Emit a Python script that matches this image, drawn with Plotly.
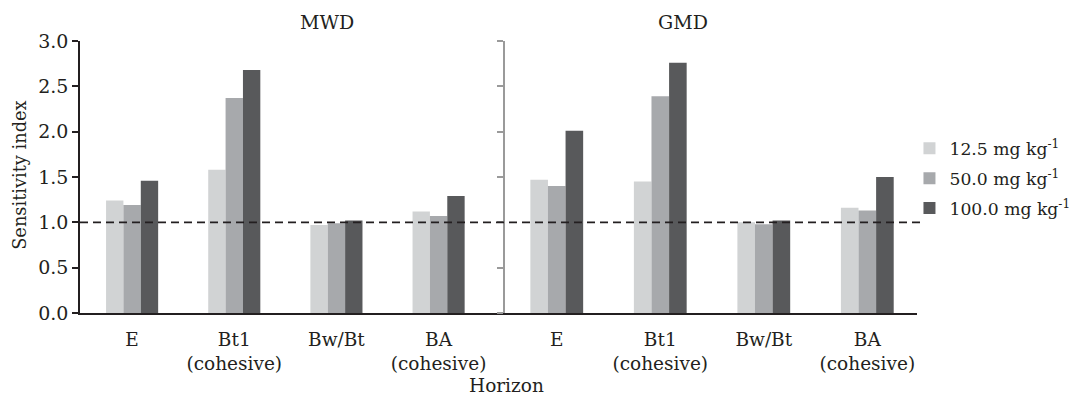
import plotly.graph_objects as go

categories = ["E", "Bt1<br>(cohesive)", "Bw/Bt", "BA<br>(cohesive)"]
series_names = ["12.5 mg kg<sup>-1</sup>", "50.0 mg kg<sup>-1</sup>", "100.0 mg kg<sup>-1</sup>"]
colors = ["#d1d3d4", "#a7a9ac", "#58595b"]

mwd_12_5 = [1.24, 1.58, 0.97, 1.12]
mwd_50 = [1.19, 2.37, 0.99, 1.07]
mwd_100 = [1.46, 2.68, 1.02, 1.29]

gmd_12_5 = [1.47, 1.45, 1.00, 1.16]
gmd_50 = [1.40, 2.39, 0.98, 1.13]
gmd_100 = [2.01, 2.76, 1.02, 1.50]

panel_titles = ["MWD", "GMD"]
reference_value = 1.0
y_ticks = [0.0, 0.5, 1.0, 1.5, 2.0, 2.5, 3.0]

FONT = "DejaVu Serif"
TXT = "#231f20"

fig = go.Figure()
mwd = [mwd_12_5, mwd_50, mwd_100]
gmd = [gmd_12_5, gmd_50, gmd_100]
for i in range(3):
    fig.add_trace(go.Bar(x=categories, y=mwd[i], name=series_names[i],
                         marker=dict(color=colors[i], line=dict(width=0)),
                         xaxis="x", yaxis="y", legendgroup=f"g{i}",
                         showlegend=True))
for i in range(3):
    fig.add_trace(go.Bar(x=categories, y=gmd[i], name=series_names[i],
                         marker=dict(color=colors[i], line=dict(width=0)),
                         xaxis="x2", yaxis="y2", legendgroup=f"g{i}",
                         showlegend=False))

split = 425 / 837

fig.update_layout(
    width=1070, height=389,
    margin=dict(l=72, r=161, t=33, b=83.5, pad=0, autoexpand=False),
    paper_bgcolor="white", plot_bgcolor="white",
    font=dict(family=FONT, size=18.5, color=TXT),
    barmode="group", bargap=0.49, bargroupgap=0,
    showlegend=True,
    legend=dict(x=0.991, y=0.494, xanchor="left", yanchor="middle",
                xref="paper", yref="paper",
                font=dict(family=FONT, size=17.2, color=TXT),
                tracegroupgap=4.5, bgcolor="rgba(0,0,0,0)",
                traceorder="grouped"),
    xaxis=dict(domain=[0, split], range=[-0.51, 3.65], showline=True,
               linecolor="#231f20", linewidth=2, ticks="", showgrid=False,
               zeroline=False, tickfont=dict(size=18.5), anchor="y",
               ticklabelstandoff=9, automargin=False),
    xaxis2=dict(domain=[split, 1], range=[-0.5, 3.48], showline=True,
                linecolor="#231f20", linewidth=2, ticks="", showgrid=False,
                zeroline=False, tickfont=dict(size=18.5), anchor="y2",
                ticklabelstandoff=9, automargin=False),
    yaxis=dict(domain=[0, 1], range=[0, 3.0], tickvals=y_ticks,
               ticktext=[f"{v:.1f}" for v in y_ticks],
               showline=True, linecolor="#231f20", linewidth=1.5,
               ticks="outside", ticklen=6, tickcolor="#231f20", tickwidth=1.5,
               showgrid=False, zeroline=False, anchor="x",
               tickfont=dict(size=19), automargin=False),
    yaxis2=dict(domain=[0, 1], range=[0, 3.0], tickvals=y_ticks,
                showticklabels=False, showline=True, linecolor="#9a9a9a",
                linewidth=1.5, ticks="outside", ticklen=6, tickcolor="#9a9a9a",
                tickwidth=1.5, showgrid=False, zeroline=False, anchor="x2",
                automargin=False),
    shapes=[dict(type="line", xref="paper", yref="y", x0=0, x1=1.004,
                 y0=reference_value, y1=reference_value,
                 line=dict(color="#231f20", width=1.6, dash="8px,5px"),
                 layer="above")],
    annotations=[
        dict(text=panel_titles[0], x=0.2605, y=1.0, xref="paper", yref="paper",
             yanchor="middle", yshift=19, showarrow=False, font=dict(size=19)),
        dict(text=panel_titles[1], x=0.7527, y=1.0, xref="paper", yref="paper",
             yanchor="middle", yshift=19, showarrow=False, font=dict(size=19)),
        dict(text="Horizon", x=0.51, y=0, xref="paper", yref="paper",
             yanchor="middle", yshift=-72, showarrow=False, font=dict(size=18.5)),
        dict(text="Sensitivity index", x=-0.0717, y=0.508, xref="paper", yref="paper",
             xanchor="center", yanchor="middle", textangle=-90, showarrow=False,
             font=dict(size=17.8)),
    ],
)

fig.write_html("out.html")
